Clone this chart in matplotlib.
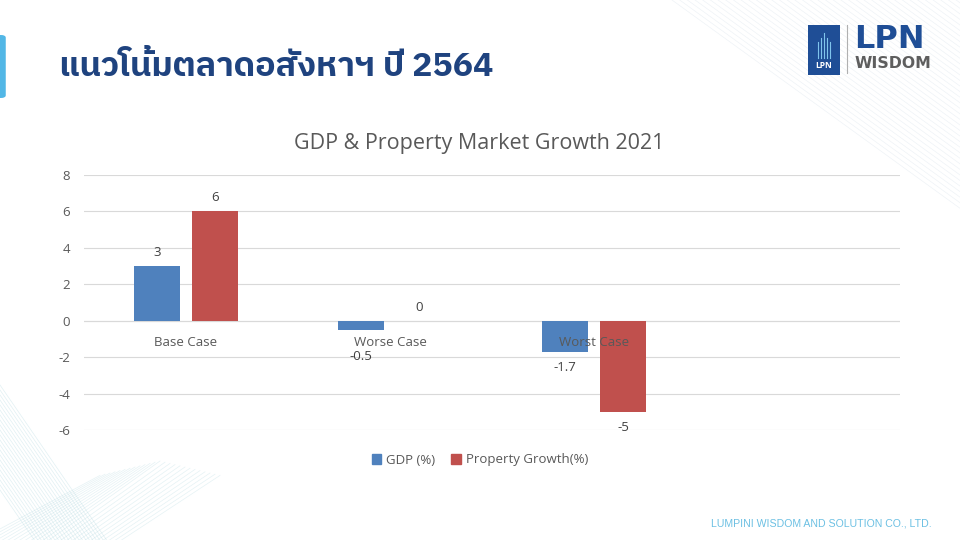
import matplotlib
matplotlib.use('Agg')
import matplotlib.pyplot as plt
from matplotlib import font_manager
from matplotlib.patches import Patch, Rectangle, FancyBboxPatch
from matplotlib.lines import Line2D
import numpy as np

# data
categories = ['Base Case', 'Worse Case', 'Worst Case']
gdp = [3, -0.5, -1.7]
property_growth = [6, 0, -5]
gdp_labels = ['3', '-0.5', '-1.7']
prop_labels = ['6', '0', '-5']
yticks = [-6, -4, -2, 0, 2, 4, 6, 8]

page_title = 'แนวโน้มตลาดอสังหาฯ ปี 2564'
chart_title = 'GDP & Property Market Growth 2021'
footer = 'LUMPINI WISDOM AND SOLUTION CO., LTD.'

# pick a font that has thai glyphs
names = set(f.name for f in font_manager.fontManager.ttflist)
thai_font = 'DejaVu Sans'
for n in ['IBM Plex Sans Thai', 'Noto Sans Thai', 'Sarabun', 'Prompt', 'Kanit', 'Anuphan']:
    if n in names:
        thai_font = n
        break

ui_font = 'Open Sans'
grey = '#595959'
blue = '#4F81BD'
red = '#C0504D'

fig = plt.figure(figsize=(9.6, 5.4), dpi=100)


def px(xp, yp):
    # slide pixels -> figure fraction
    return xp / 960, 1 - yp / 540


# decorative faint diagonal lines (top right / bottom left corners)
for i in range(40):
    x0 = 0.70 + i * 0.008
    fig.add_artist(Line2D([x0, x0 + 0.35], [1.0, 0.55], color='#C9D6E3', lw=0.5,
                          alpha=0.3, zorder=-5))
for k in range(22):
    (xa, ya), (xb, yb) = px(0, 385 + 5 * k), px(110, 545 + 5 * k)
    fig.add_artist(Line2D([xa, xb], [ya, yb], color='#A9D4DC', lw=0.5, alpha=0.35, zorder=-5))
for k in range(25):
    (xa, ya), (xb, yb) = px(-30 + 6 * k, 545), px(100 + 5 * k, 475 - abs(k - 12) * -1.2 - 14)
    fig.add_artist(Line2D([xa, xb], [ya, yb], color='#A9D4DC', lw=0.5, alpha=0.3, zorder=-5))

# left accent bar
fig.add_artist(FancyBboxPatch((-0.01, 1 - 98 / 540), 0.016, 63 / 540,
                              boxstyle='round,pad=0,rounding_size=0.005',
                              facecolor='#52B7E6', edgecolor='none'))

fig.text(59 / 960, 1 - 67 / 540, page_title, fontsize=24.5, fontweight='bold',
         color='#1F437F', family=[thai_font, 'DejaVu Sans'], va='center', ha='left')

# logo
fig.add_artist(Rectangle((808 / 960, 1 - 75 / 540), 32 / 960, 50 / 540,
                         facecolor='#1F4E96', edgecolor='none'))
for dx in [-6, -3, 0, 3, 6]:
    xl = (824 + dx) / 960
    top = 1 - (33 + abs(dx) * 1.5) / 540
    fig.add_artist(Line2D([xl, xl], [1 - 58 / 540, top], color='#7FC4EC', lw=0.8))
fig.text(824 / 960, 1 - 66 / 540, 'LPN', fontsize=6, color='white', fontweight='bold',
         ha='center', va='center', family=ui_font)
fig.add_artist(Line2D([847 / 960, 847 / 960], [1 - 25 / 540, 1 - 73 / 540], color='#B0B0B0', lw=0.8))
fig.text(854 / 960, 1 - 40 / 540, 'LPN', fontsize=23, fontweight='bold', color='#1F4E96',
         ha='left', va='center', family='DejaVu Sans')
fig.text(855 / 960, 1 - 64 / 540, 'WISDOM', fontsize=11.3, fontweight='bold', color='#5E5E5E',
         ha='left', va='center', family='DejaVu Sans')

fig.text(932 / 960, 1 - 523 / 540, footer, fontsize=7.6, color='#6CC0E3',
         ha='right', va='center', family='Liberation Sans')

# chart
ax = fig.add_axes([84 / 960, 1 - 430 / 540, 816 / 960, 255 / 540])
x = np.arange(len(categories))
w = 0.225
off = 0.143
b1 = ax.bar(x - off, gdp, w, color=blue, zorder=3)
b2 = ax.bar(x + off, property_growth, w, color=red, zorder=3)

# data labels outside the bar ends, kept clear of the category labels
for bars, labels in [(b1, gdp_labels), (b2, prop_labels)]:
    for bar, lab in zip(bars, labels):
        v = bar.get_height()
        xc = bar.get_x() + bar.get_width() / 2
        if v >= 0:
            ly = v + 0.74
        else:
            ly = min(v - 0.88, -1.98)
        ax.text(xc, ly, lab, ha='center', va='center', fontsize=9.5,
                color='#404040', family=ui_font)

for xi, c in zip(x, categories):
    ax.annotate(c, (xi, 0), xytext=(0, -15.5), textcoords='offset points',
                ha='center', va='center', fontsize=9.5, color=grey, family=ui_font, zorder=4)

ax.set_xlim(-0.5, 3.5)
ax.set_ylim(-6, 8)
ax.set_yticks(yticks)
ax.set_yticklabels([str(t) for t in yticks], fontsize=9.5, color=grey, family=ui_font)
ax.set_xticks([])
ax.tick_params(axis='y', length=0, pad=10)
ax.grid(axis='y', color='#D9D9D9', lw=0.8, zorder=0)
for s in ax.spines.values():
    s.set_visible(False)
ax.axhline(0, color='#D9D9D9', lw=0.8, zorder=1)
ax.patch.set_alpha(0)

fig.text(479 / 960, 1 - 143 / 540, chart_title, fontsize=15.5, color=grey,
         ha='center', va='center', family=ui_font)

handles = [Patch(color=blue), Patch(color=red)]
fig.legend(handles, ['GDP (%)', 'Property Growth(%)'], loc='center',
           bbox_to_anchor=(480 / 960, 1 - 460 / 540), ncol=2, frameon=False,
           handlelength=0.7, handleheight=0.7, handletextpad=0.4, columnspacing=1.2,
           prop={'family': ui_font, 'size': 9.5}, labelcolor=grey)

fig.savefig('out.png')
